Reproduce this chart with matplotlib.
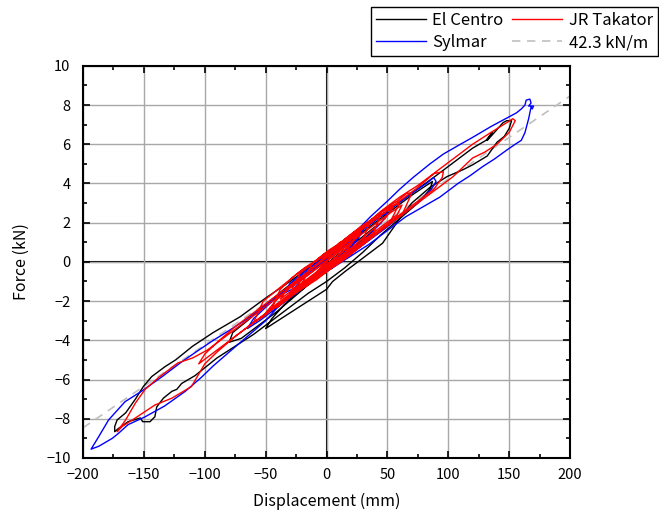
import numpy as np
import matplotlib
matplotlib.use("Agg")
import matplotlib.pyplot as plt
from matplotlib.ticker import MultipleLocator

plt.rcParams['font.family'] = ['Noto Sans CJK JP', 'DejaVu Sans']

# El Centro
elc_d = [0, 12, 25, 18, 5, -10, -22, -15, -2, 12, 28, 40, 32, 18, 5, -10, -25, -40, -55, -70,
         -80, -77, -65, -50, -35, -20, -5, 10, 25, 40, 55, 70, 82, 87, 85, 75, 60, 45, 30, 15,
         0, -15, -30, -45, -60, -75, -90, -100, -108, -119, -123, -127, -134, -139.5, -141, -145,
         -151, -153, -163, -171, -174, -174, -172, -165, -157, -150.5, -143.6, -132.6, -124,
         -110, -93, -71, -49, -30, -10, 10, 30, 50, 70, 90, 105, 120, 131, 136, 132, 135, 145,
         148, 152, 150, 146, 140, 132, 120, 112, 99, 85, 70, 60, 46, 30, 15, 5, 0, -10, -25, -40,
         -50, -45, -35, -20, -5, 10, 25, 35, 28, 15, 0]
elc_f = [-0.2, 0.4, 0.9, 0.4, -0.3, -0.9, -1.5, -0.9, -0.2, 0.5, 1.2, 1.8, 1.1, 0.4, -0.2, -0.9,
         -1.7, -2.5, -3.2, -3.9, -4.1, -3.6, -3.0, -2.2, -1.4, -0.7, 0.0, 0.6, 1.3, 2.0, 2.7, 3.4,
         3.9, 4.1, 3.7, 3.0, 2.2, 1.4, 0.5, -0.3, -1.0, -1.6, -2.3, -3.0, -3.7, -4.3, -4.9, -5.4,
         -5.8, -6.2, -6.5, -6.6, -6.95, -7.4, -7.9, -8.15, -8.15, -7.96, -8.15, -8.5, -8.66, -8.4,
         -8.06, -7.7, -7.0, -6.36, -5.85, -5.34, -5.0, -4.3, -3.6, -2.8, -1.8, -1.0, -0.1, 0.8,
         1.7, 2.6, 3.5, 4.4, 5.1, 5.8, 6.2, 6.6, 6.2, 6.4, 7.1, 7.2, 7.2, 6.8, 6.4, 6.1, 5.4, 4.95,
         4.7, 4.35, 3.8, 3.0, 2.2, 0.95, 0.2, -0.5, -1.0, -1.4, -1.8, -2.4, -3.0, -3.4, -2.9, -2.2,
         -1.3, -0.5, 0.2, 0.9, 1.4, 0.9, 0.2, -0.4]

# JR Takatori
jrt_d = [0, 15, 28, 20, 5, -10, -25, -38, -30, -15, 0, 15, 30, 45, 55, 48, 35, 20, 5, -10, -25,
         -40, -50, -42, -30, -15, 0, 15, 30, 45, 60, 75, 88, 96, 95, 88, 75, 60, 45, 30, 15, 0,
         -15, -30, -45, -60, -75, -90, -105, -100, -88, -75, -60, -45, -30, -15, 0, 15, 30, 45,
         60, 75, 90, 105, 120, 135, 148, 153, 155, 150, 140, 130, 120, 104, 90, 75, 60, 45, 30,
         15, 0, -15, -30, -45, -60, -75, -90, -100, -111, -127, -141, -157, -168, -172, -165,
         -157, -149, -138, -122, -110, -98, -85, -70, -55, -40, -25, -10, 5, 20, 35, 50, 62, 58,
         45, 30, 15, 0, -15, -28, -20, -5, 10, 22, 15, 3, -8, 0,
         10, 20, 30, 35, 28, 18, 8, -2, -12, -22, -32, -40, -45, -38, -28, -18, -8, 2, 12, 22,
         32, 42, 52, 60, 52, 42, 32, 22, 12, 2, -8, -18, -26, -30, -22, -12, -2, 8, 18, 28, 38,
         45, 38, 28, 18, 8, -2, -12, -22, -32, -42, -52, -60, -52, -42, -32, -22, -12, -2, 8,
         18, 28, 38, 48, 58, 66, 70, 62, 52, 42, 32, 22, 12, 2, -8, -16, -20, -12, -2, 8, 18,
         25, 15, 5, 0]
jrt_f = [0.0, 0.9, 1.5, 0.9, 0.1, -0.6, -1.3, -1.9, -1.2, -0.5, 0.2, 0.9, 1.7, 2.4, 2.8, 2.2,
         1.5, 0.7, 0.0, -0.7, -1.4, -2.1, -2.6, -2.0, -1.3, -0.5, 0.3, 1.0, 1.8, 2.6, 3.3, 3.9,
         4.5, 4.6, 4.3, 3.7, 3.1, 2.4, 1.7, 1.0, 0.3, -0.4, -1.0, -1.7, -2.4, -3.1, -3.8, -4.5,
         -5.2, -4.7, -4.0, -3.3, -2.6, -1.9, -1.2, -0.5, 0.3, 1.0, 1.7, 2.4, 3.1, 3.8, 4.6, 5.3,
         6.0, 6.6, 7.1, 7.3, 7.2, 6.6, 6.0, 5.6, 5.3, 4.35, 3.7, 3.0, 2.3, 1.6, 0.9, 0.2, -0.5,
         -1.1, -1.8, -2.4, -3.1, -3.8, -4.6, -5.2, -6.36, -6.95, -7.3, -7.96, -8.4, -8.66, -8.06,
         -7.2, -6.5, -5.9, -5.15, -4.9, -4.5, -3.9, -3.2, -2.5, -1.8, -1.1, -0.4, 0.3, 1.0, 1.7,
         2.4, 2.9, 2.4, 1.8, 1.1, 0.4, -0.3, -0.9, -1.5, -0.9, -0.2, 0.5, 1.1, 0.6, 0.0, -0.5, 0.0,
         0.95, 1.3, 1.8, 1.95, 0.8, 0.3, -0.1, -0.6, -1.0, -1.4, -1.9, -2.3, -2.4, -1.4, -0.8,
         -0.3, 0.1, 0.6, 1.0, 1.5, 1.9, 2.4, 2.8, 3.0, 2.0, 1.5, 1.0, 0.5, 0.0, -0.4, -0.9, -1.3,
         -1.6, -1.6, -0.6, -0.1, 0.4, 0.8, 1.3, 1.7, 2.2, 2.5, 1.4, 0.9, 0.4, 0.0, -0.5, -0.9,
         -1.4, -1.8, -2.3, -2.8, -3.1, -2.0, -1.5, -1.0, -0.5, -0.1, 0.4, 0.8, 1.3, 1.8, 2.2, 2.7,
         3.1, 3.5, 3.5, 2.4, 2.0, 1.5, 1.0, 0.5, 0.1, -0.4, -0.8, -1.1, -1.1, -0.1, 0.3, 0.8, 1.2,
         1.4, 0.4, -0.1, -0.2]

# Sylmar
syl_d = [0, 10, 22, 30, 25, 12, 0, -12, -25, -35, -30, -18, -5, 10, 25, 40, 50, 45, 32, 18, 5,
         -10, -25, -40, -50, -65, -80, -93, -103, -116, -133, -149, -163, -171, -176, -187,
         -193.4, -187, -179, -165.5, -152, -135, -119, -105, -93, -80, -65, -50, -35, -20, -5,
         10, 25, 36, 50, 60, 71, 85, 96, 110, 120, 135, 150, 156, 160, 163, 164, 167, 168, 166,
         170, 169, 168, 166, 163, 160, 155, 148, 138, 128, 118, 108, 93, 79, 65, 50, 35, 20, 5,
         -10, -25, -40, -55, -65, -60, -48, -35, -20, -5, 10, 25, 40, 55, 70, 82, 88, 90, 86, 75,
         62, 48, 35, 20, 8, -5, -20, -30, -22, -10, 2, 15, 28, 20, 8, -3, 0]
syl_f = [0.1, 0.7, 1.3, 1.6, 1.1, 0.3, -0.3, -0.8, -1.3, -1.6, -1.1, -0.5, 0.1, 0.8, 1.5, 2.2,
         2.5, 2.0, 1.2, 0.5, -0.1, -0.8, -1.5, -2.3, -3.0, -3.8, -4.6, -5.3, -5.9, -6.6, -7.35,
         -7.9, -8.3, -8.75, -9.0, -9.4, -9.55, -8.9, -8.06, -7.13, -6.6, -5.85, -5.1, -4.5, -4.0,
         -3.5, -2.9, -2.2, -1.5, -0.7, 0.0, 0.7, 1.6, 2.3, 3.1, 3.7, 4.3, 5.0, 5.5, 6.0, 6.35,
         6.9, 7.4, 7.6, 7.8, 8.0, 8.25, 8.3, 8.1, 7.95, 7.95, 7.8, 7.9, 7.3, 6.6, 6.2, 6.0, 5.7,
         5.25, 4.85, 4.4, 4.0, 3.3, 2.8, 2.3, 1.6, 0.9, 0.3, -0.3, -0.9, -1.6, -2.3, -3.0, -3.4,
         -2.9, -2.2, -1.5, -0.8, -0.1, 0.6, 1.4, 2.1, 2.8, 3.5, 4.0, 4.3, 4.1, 3.7, 3.0, 2.4, 1.7,
         1.1, 0.4, -0.1, -0.6, -1.2, -1.6, -1.0, -0.4, 0.2, 0.8, 1.4, 0.8, 0.2, -0.3, 0.0]

k_fit = 42.3  # kN/m
fit_d = np.array([-200, 200])

fig = plt.figure(figsize=(6.59, 5.14), dpi=100)
ax = fig.add_axes([0.126, 0.109, 0.739, 0.763])

ax.grid(True, color='#a8a8a8', linewidth=1.0, zorder=0)
ax.axhline(0, color='black', linewidth=1.5, zorder=1)
ax.axvline(0, color='black', linewidth=1.5, zorder=1)

l1, = ax.plot(elc_d, elc_f, color='black', linewidth=1.0, label='El Centro', zorder=3)
l3, = ax.plot(syl_d, syl_f, color='#0000ff', linewidth=1.0, label='Sylmar', zorder=4)
l2, = ax.plot(jrt_d, jrt_f, color='#ff0000', linewidth=1.0, label='JR Takator', zorder=5)
l4, = ax.plot(fit_d, fit_d * k_fit / 1000, color='#c0c0c0', linewidth=1.2,
              linestyle=(0, (5, 4)), label='42.3 kN/m', zorder=2)

ax.set_xlim(-200, 200)
ax.set_ylim(-10, 10)
ax.xaxis.set_major_locator(MultipleLocator(50))
ax.xaxis.set_minor_locator(MultipleLocator(25))
ax.yaxis.set_major_locator(MultipleLocator(2))
ax.yaxis.set_minor_locator(MultipleLocator(1))
ax.tick_params(which='both', direction='in', top=True, right=True, labelsize=10.5, width=1.2)
ax.tick_params(which='major', length=5)
ax.tick_params(which='minor', length=3)
ax.tick_params(axis='x', pad=7)
ax.tick_params(axis='y', pad=9)
for s in ax.spines.values():
    s.set_linewidth(1.5)

ax.set_xlabel('Displacement (mm)', fontsize=11.5, labelpad=8)
ax.set_ylabel('Force (kN)', fontsize=11.5, labelpad=12)

leg = fig.legend(handles=[l1, l3, l2, l4], ncol=2, loc='upper right',
                 bbox_to_anchor=(0.998, 0.986), fontsize=12, frameon=True, fancybox=False,
                 edgecolor='black', framealpha=1, handlelength=3.0, handletextpad=0.4,
                 columnspacing=0.5, borderpad=0.3, labelspacing=0.3, borderaxespad=0)
leg.get_frame().set_linewidth(1.0)

fig.savefig('out.png', dpi=100)
